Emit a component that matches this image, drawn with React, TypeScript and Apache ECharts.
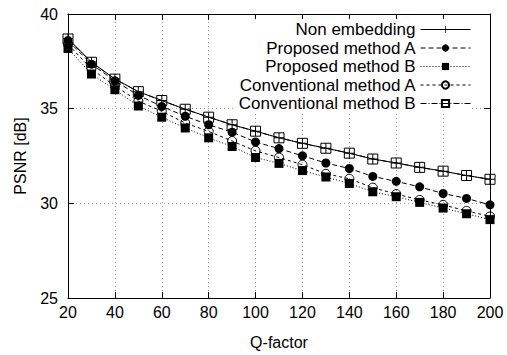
import React, { useEffect, useRef } from "react";
import * as echarts from "echarts";

const qFactor = [20, 30, 40, 50, 60, 70, 80, 90, 100, 110, 120, 130, 140, 150, 160, 170, 180, 190, 200];
const nonEmbedding = [38.7, 37.46, 36.57, 35.9, 35.43, 34.97, 34.55, 34.15, 33.81, 33.46, 33.17, 32.91, 32.65, 32.34, 32.13, 31.9, 31.7, 31.47, 31.27];
const proposedA = [38.6, 37.35, 36.47, 35.7, 35.12, 34.6, 34.15, 33.76, 33.24, 32.89, 32.51, 32.13, 31.84, 31.42, 31.16, 30.87, 30.52, 30.26, 29.92];
const proposedB = [38.18, 36.83, 36.0, 35.14, 34.55, 33.98, 33.46, 33.0, 32.42, 32.11, 31.73, 31.39, 31.05, 30.61, 30.35, 30.05, 29.75, 29.45, 29.14];
const conventionalA = [38.4, 37.1, 36.2, 35.4, 34.86, 34.24, 33.8, 33.29, 32.77, 32.42, 32.04, 31.56, 31.3, 30.83, 30.49, 30.18, 29.92, 29.6, 29.31];
const conventionalB = [38.68, 37.45, 36.56, 35.9, 35.43, 34.97, 34.55, 34.15, 33.81, 33.46, 33.17, 32.91, 32.65, 32.34, 32.13, 31.9, 31.7, 31.47, 31.27];

const xTicks = { min: 20, max: 200, interval: 20 };
const yTicks = { min: 25, max: 40, interval: 5 };

const FONT = "'Liberation Sans', Arial, Helvetica, sans-serif";
const PLUS = "path://M4.5,0 H5.5 V4.5 H10 V5.5 H5.5 V10 H4.5 V5.5 H0 V4.5 H4.5 Z";

const pairs = (ys: number[]) => qFactor.map((x, i) => [x, ys[i]]);

export default function App() {
  const ref = useRef<HTMLDivElement>(null);
  useEffect(() => {
    if (!ref.current) return;
    const chart = echarts.init(ref.current, null, { renderer: "svg" });
    const axisCommon = {
      axisLine: { show: true, lineStyle: { color: "#000", width: 1 } },
      axisTick: { show: true, inside: true, length: 6, lineStyle: { color: "#000" } },
    };
    const mkSeries = (name: string, ys: number[], symbol: string, size: number, filled: boolean, type: any) => ({
      name,
      type: "line",
      data: pairs(ys),
      symbol,
      symbolSize: size,
      lineStyle: { color: "#000", width: 1, type },
      itemStyle: {
        color: filled ? "#000" : "rgba(0,0,0,0)",
        borderColor: "#000",
        borderWidth: filled ? 0 : 1,
      },
      emphasis: { disabled: true },
    });
    chart.setOption({
      animation: false,
      textStyle: { fontFamily: FONT },
      grid: { left: 68, right: 17, top: 14, bottom: 52, containLabel: false },
      legend: {
        orient: "vertical",
        align: "right",
        right: 36,
        top: 19,
        padding: [2, 0, 2, 6],
        itemWidth: 50,
        itemHeight: 9,
        itemGap: 1.5,
        backgroundColor: "#fff",
        lineStyle: { width: 1 },
        textStyle: { fontFamily: FONT, fontSize: 17, lineHeight: 17, color: "#000" },
        data: ["Non embedding", "Proposed method A", "Proposed method B", "Conventional method A", "Conventional method B"],
      },
      xAxis: [
        {
          type: "value",
          ...xTicks,
          name: "Q-factor",
          nameLocation: "middle",
          nameGap: 36,
          nameTextStyle: { fontFamily: FONT, fontSize: 16, color: "#000" },
          ...axisCommon,
          axisLabel: { fontFamily: FONT, fontSize: 16, color: "#000", margin: 6 },
          splitLine: { show: true, lineStyle: { color: "#999", type: [1, 3], width: 1 } },
        },
        {
          type: "value",
          position: "top",
          ...xTicks,
          ...axisCommon,
          axisLabel: { show: false },
          splitLine: { show: false },
        },
      ],
      yAxis: [
        {
          type: "value",
          ...yTicks,
          name: "PSNR [dB]",
          nameLocation: "middle",
          nameGap: 40,
          nameTextStyle: { fontFamily: FONT, fontSize: 16, color: "#000" },
          ...axisCommon,
          axisLabel: { fontFamily: FONT, fontSize: 16, color: "#000", margin: 10 },
          splitLine: { show: true, lineStyle: { color: "#999", type: [1, 3], width: 1 } },
        },
        {
          type: "value",
          position: "right",
          ...yTicks,
          ...axisCommon,
          axisLabel: { show: false },
          splitLine: { show: false },
        },
      ],
      series: [
        mkSeries("Non embedding", nonEmbedding, PLUS, 10, true, "solid"),
        mkSeries("Proposed method A", proposedA, "circle", 9, true, [5, 3]),
        mkSeries("Proposed method B", proposedB, "rect", 9, true, [1, 2]),
        mkSeries("Conventional method A", conventionalA, "circle", 9, false, [3, 3]),
        mkSeries("Conventional method B", conventionalB, "rect", 10, false, [6, 2, 1, 2]),
      ],
    });
    return () => chart.dispose();
  }, []);
  return <div ref={ref} style={{ position: "absolute", left: 0, top: 0, width: 507, height: 355 }} />;
}
